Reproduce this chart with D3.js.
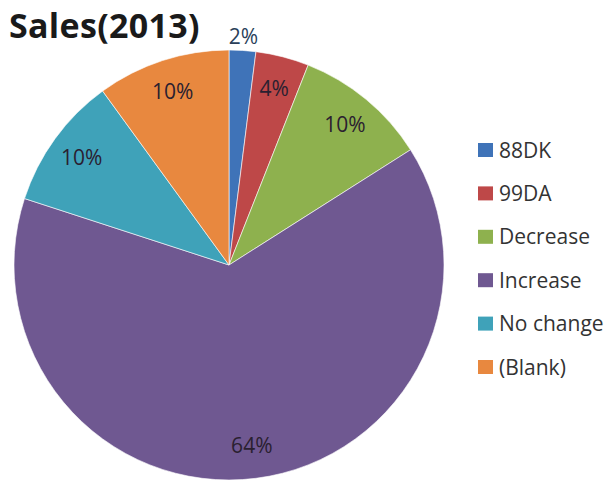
<!DOCTYPE html>
<html>
<head>
<meta charset="utf-8">
<script src="https://cdn.jsdelivr.net/npm/d3@7"></script>
<style>
  body { margin: 0; background: #fff; }
  text { font-family: "Open Sans", Lato, sans-serif; }
</style>
</head>
<body>
<div id="chart"></div>
<script>
var categories = ["88DK", "99DA", "Decrease", "Increase", "No change", "(Blank)"];
var values = [2, 4, 10, 64, 10, 10];
var colors = ["#3F73B8", "#BE4848", "#8EB14E", "#6F5891", "#3FA2B9", "#E8883F"];

var width = 609, height = 481;
var cx = 229, cy = 265, rad = 215;

var svg = d3.select("#chart").append("svg")
  .attr("width", width)
  .attr("height", height);

svg.append("text")
  .attr("x", 9)
  .attr("y", 38)
  .style("font-size", "34px")
  .style("font-weight", "bold")
  .style("fill", "#1a1a1a")
  .style("letter-spacing", "0.3px")
  .text("Sales(2013)");

var data = categories.map(function(c, i) {
  return { name: c, value: values[i], color: colors[i] };
});

var pie = d3.pie().sort(null).value(function(d) { return d.value; });
var arcs = pie(data);
var total = d3.sum(values);

var arc = d3.arc().innerRadius(0).outerRadius(rad);
var labelArc = d3.arc().innerRadius(182).outerRadius(182);
var outArc = d3.arc().innerRadius(229).outerRadius(229);

var g = svg.append("g").attr("transform", "translate(" + cx + "," + cy + ")");

g.selectAll(".slice")
  .data(arcs)
  .enter()
  .append("path")
  .attr("class", "slice")
  .attr("d", arc)
  .style("fill", function(d) { return d.data.color; })
  .style("stroke", "#fff")
  .style("stroke-width", 0.6);

g.selectAll(".lbl")
  .data(arcs)
  .enter()
  .append("text")
  .attr("class", "lbl")
  .attr("transform", function(d) {
    var p = (d.data.value / total < 0.03) ? outArc.centroid(d) : labelArc.centroid(d);
    return "translate(" + p[0] + "," + p[1] + ")";
  })
  .attr("text-anchor", "middle")
  .attr("dy", "0.35em")
  .style("font-size", "21px")
  .style("fill", function(d) { return (d.data.value / total < 0.03) ? "#2a3f5a" : "#2a2030"; })
  .text(function(d) { return Math.round(d.data.value / total * 100) + "%"; });

var legend = svg.append("g").attr("transform", "translate(478,150)");
var item = legend.selectAll(".item")
  .data(data)
  .enter()
  .append("g")
  .attr("class", "item")
  .attr("transform", function(d, i) { return "translate(0," + (i * 43.4) + ")"; });

item.append("rect")
  .attr("x", 0)
  .attr("y", -7)
  .attr("width", 15)
  .attr("height", 14)
  .style("fill", function(d) { return d.color; });

item.append("text")
  .attr("x", 21)
  .attr("y", 0)
  .attr("dy", "0.36em")
  .style("font-size", "21px")
  .style("fill", "#333")
  .text(function(d) { return d.name; });
</script>
</body>
</html>
